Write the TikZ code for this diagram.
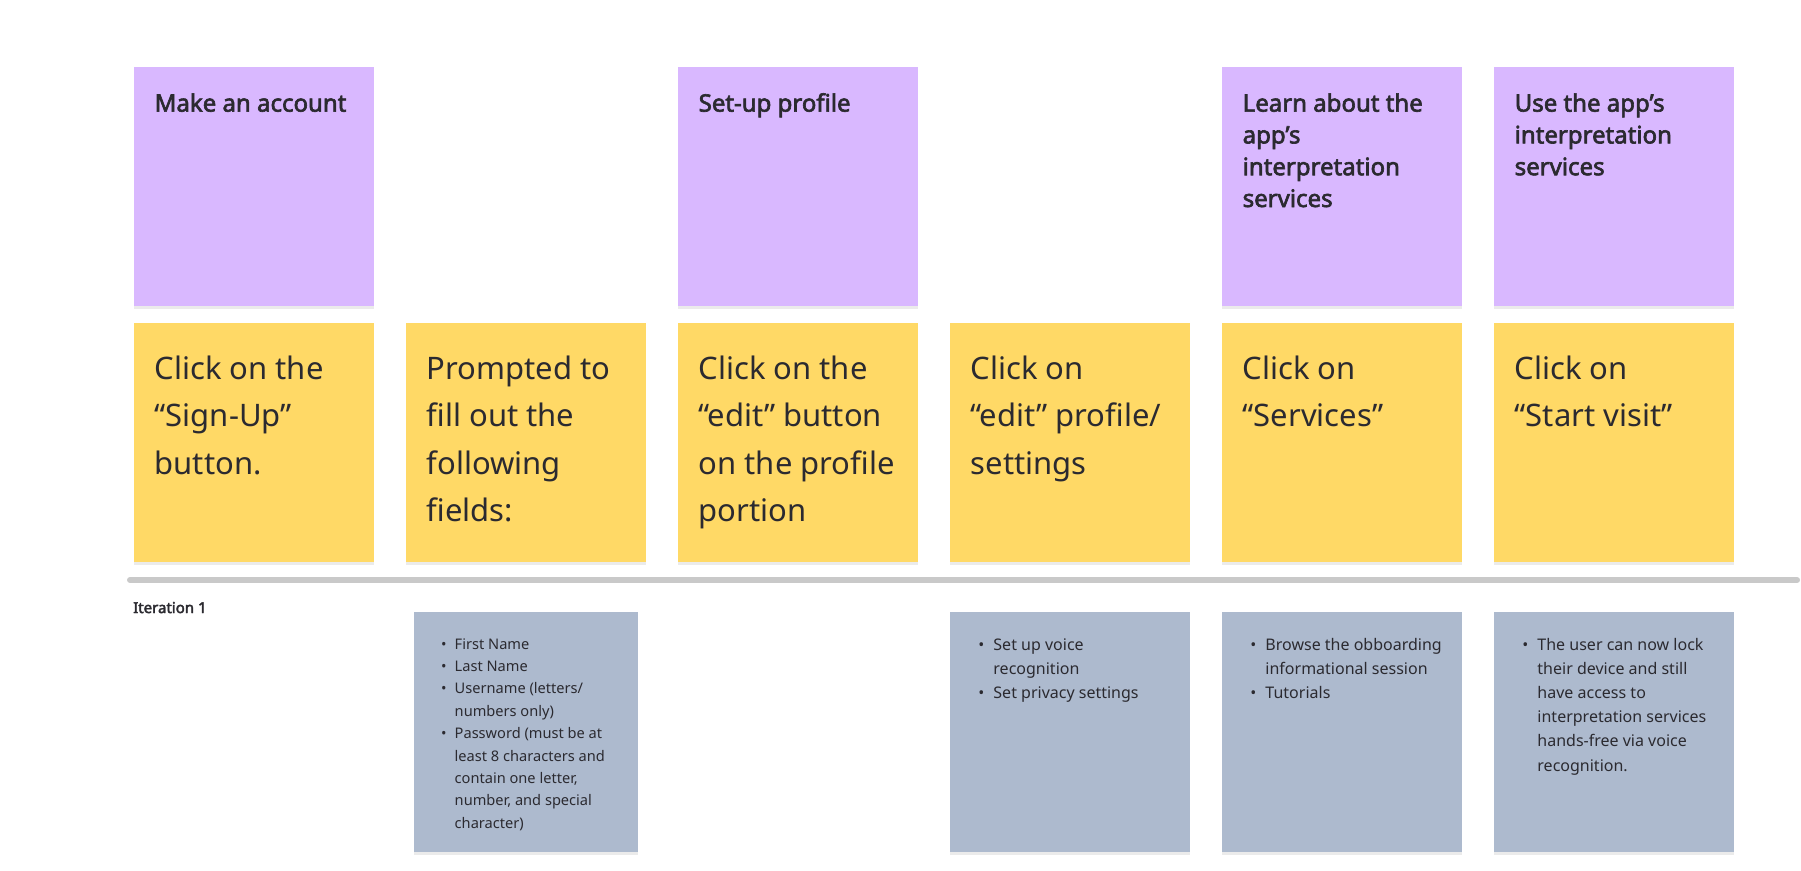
\documentclass[tikz,border=0pt]{standalone}
\usepackage{fontspec}
\setmainfont{Noto Sans}[AutoFakeBold=2.6]
\usetikzlibrary{shadows}
\definecolor{lilac}{HTML}{D9B8FF}
\definecolor{sun}{HTML}{FFD966}
\definecolor{slate}{HTML}{ADBACE}
\definecolor{ink}{HTML}{2B2A30}
\definecolor{linegray}{HTML}{C9C9C9}
\newcommand{\bl}{\makebox[0.94em][l]{\textbullet}}

\begin{document}
\begin{tikzpicture}[x=1pt,y=-1pt,
  sticky/.style={rectangle,anchor=north west,inner sep=0,minimum width=240pt,minimum height=239pt,
    drop shadow={shadow xshift=0pt,shadow yshift=-3pt,opacity=0.08,fill=black}},
  headtxt/.style={anchor=base west,inner sep=0,text=ink,font=\fontsize{24}{31.8}\selectfont\bfseries},
  steptxt/.style={anchor=base west,inner sep=0,text=ink,font=\fontsize{31}{47.4}\selectfont},
  notetxt/.style={anchor=base west,inner sep=0,text=ink,font=\fontsize{16}{24.2}\selectfont}]
\fill[white] (0,0) rectangle (1801,870);
\useasboundingbox (0,0) rectangle (1801,870);
% top row
\node[sticky,fill=lilac] (P1) at (133.5,66.6) {};
\node[sticky,fill=lilac] (P3) at (677.5,66.6) {};
\node[sticky,fill=lilac] (P5) at (1221.5,66.6) {};
\node[sticky,fill=lilac] (P6) at (1493.5,66.6) {};
\node[headtxt] (P1t) at ([xshift=21pt,yshift=-45pt]P1.north west) {\parbox[t]{210pt}{\raggedright Make an account}};
\node[headtxt] (P3t) at ([xshift=21pt,yshift=-45pt]P3.north west) {\parbox[t]{210pt}{\raggedright Set-up profile}};
\node[headtxt] (P5t) at ([xshift=21pt,yshift=-45pt]P5.north west) {\parbox[t]{210pt}{\raggedright Learn about the\\ app’s\\ interpretation\\ services}};
\node[headtxt] (P6t) at ([xshift=21pt,yshift=-45pt]P6.north west) {\parbox[t]{210pt}{\raggedright Use the app’s\\ interpretation\\ services}};
% steps
\node[sticky,fill=sun] (Y1) at (133.5,322.7) {};
\node[sticky,fill=sun] (Y2) at (405.5,322.7) {};
\node[sticky,fill=sun] (Y3) at (677.5,322.7) {};
\node[sticky,fill=sun] (Y4) at (949.5,322.7) {};
\node[sticky,fill=sun] (Y5) at (1221.5,322.7) {};
\node[sticky,fill=sun] (Y6) at (1493.5,322.7) {};
\node[steptxt] (Y1t) at ([xshift=21pt,yshift=-56.6pt]Y1.north west) {\parbox[t]{230pt}{\raggedright Click on the\\ “Sign-Up”\\ button.}};
\node[steptxt] (Y2t) at ([xshift=21pt,yshift=-56.6pt]Y2.north west) {\parbox[t]{230pt}{\raggedright Prompted to\\ fill out the\\ following\\ fields:}};
\node[steptxt] (Y3t) at ([xshift=21pt,yshift=-56.6pt]Y3.north west) {\parbox[t]{230pt}{\raggedright Click on the\\ “edit” button\\ on the profile\\ portion}};
\node[steptxt] (Y4t) at ([xshift=21pt,yshift=-56.6pt]Y4.north west) {\parbox[t]{230pt}{\raggedright Click on\\ “edit” profile/\\ settings}};
\node[steptxt] (Y5t) at ([xshift=21pt,yshift=-56.6pt]Y5.north west) {\parbox[t]{230pt}{\raggedright Click on\\ “Services”}};
\node[steptxt] (Y6t) at ([xshift=21pt,yshift=-56.6pt]Y6.north west) {\parbox[t]{230pt}{\raggedright Click on\\ “Start visit”}};
% divider
\coordinate (L0) at (130,580);
\coordinate (L1) at (1797,580);
\draw[linegray,line width=6pt,line cap=round] (L0) -- (L1);
\node[anchor=base west,inner sep=0,text=ink,font=\fontsize{15}{17}\selectfont\bfseries] (I1) at (133,613) {Iteration 1};
% notes
\node[sticky,fill=slate,minimum width=224pt,minimum height=240pt] (B2) at (413.5,612) {};
\node[sticky,fill=slate,minimum height=240pt] (B4) at (949.5,612) {};
\node[sticky,fill=slate,minimum height=240pt] (B5) at (1221.5,612) {};
\node[sticky,fill=slate,minimum height=240pt] (B6) at (1493.5,612) {};
\node[notetxt,font=\fontsize{14.6}{22.4}\selectfont] (B2t) at ([xshift=27.3pt,yshift=-37pt]B2.north west) {\begin{tabular}[t]{@{}l@{}l@{}}
\bl & First Name\\
\bl & Last Name\\
\bl & Username (letters/\\
    & numbers only)\\
\bl & Password (must be at\\
    & least 8 characters and\\
    & contain one letter,\\
    & number, and special\\
    & character)
\end{tabular}};
\node[notetxt] (B4t) at ([xshift=28.7pt,yshift=-38pt]B4.north west) {\begin{tabular}[t]{@{}l@{}l@{}}
\bl & Set up voice\\
    & recognition\\
\bl & Set privacy settings
\end{tabular}};
\node[notetxt] (B5t) at ([xshift=28.7pt,yshift=-38pt]B5.north west) {\begin{tabular}[t]{@{}l@{}l@{}}
\bl & Browse the obboarding\\
    & informational session\\
\bl & Tutorials
\end{tabular}};
\node[notetxt] (B6t) at ([xshift=28.7pt,yshift=-38pt]B6.north west) {\begin{tabular}[t]{@{}l@{}l@{}}
\bl & The user can now lock\\
    & their device and still\\
    & have access to\\
    & interpretation services\\
    & hands-free via voice\\
    & recognition.
\end{tabular}};
\end{tikzpicture}
\end{document}
